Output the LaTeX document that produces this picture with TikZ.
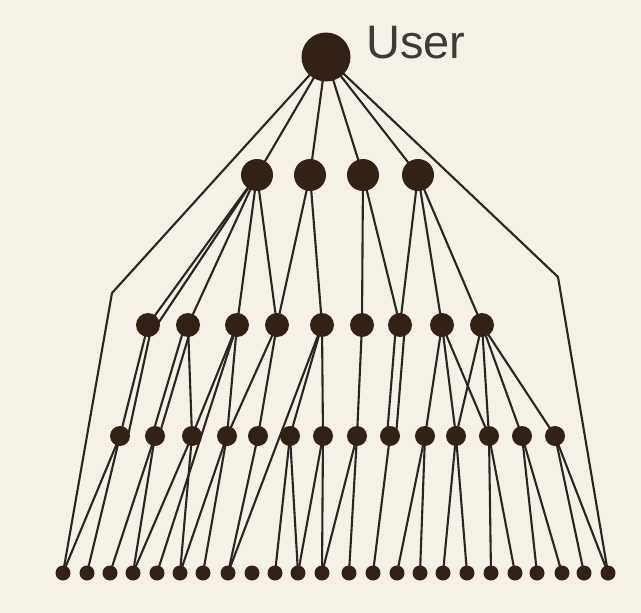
\documentclass[tikz,border=0pt]{standalone}
\usepackage{fontspec}
\setmainfont{Liberation Sans}
\pgfdeclarelayer{bg}
\pgfdeclarelayer{edges}
\pgfsetlayers{bg,edges,main}
\definecolor{paper}{RGB}{245,241,230}
\definecolor{dot}{RGB}{52,33,22}
\definecolor{ink}{RGB}{40,37,35}
\definecolor{labelink}{RGB}{62,58,55}
\begin{document}
\begin{tikzpicture}[x=1pt,y=-1pt,
  vtx/.style={circle,fill=dot,inner sep=0pt,draw=none},
  rootv/.style={vtx,minimum size=49pt},
  lvone/.style={vtx,minimum size=32pt},
  lvtwo/.style={vtx,minimum size=24pt},
  lvthree/.style={vtx,minimum size=20pt},
  leafv/.style={vtx,minimum size=15pt},
  edge/.style={draw=ink,line width=2.1pt}]
\begin{pgfonlayer}{bg}
\fill[paper] (0,0) rectangle (641,613);
\end{pgfonlayer}
\useasboundingbox (0,0) rectangle (641,613);
% nodes
\node[rootv] (U) at (326,57) {};
\node[anchor=base west,inner sep=0pt,text=labelink,font=\fontsize{47}{47}\selectfont] (lbl) at (366,58) {User};
\foreach \x [count=\i] in {257,310,363,418}
  \node[lvone] (a\i) at (\x,175) {};
\foreach \x [count=\i] in {148,188,237,277,322,362,400,442,482}
  \node[lvtwo] (b\i) at (\x,325) {};
\foreach \x [count=\i] in {120,155,192,227,258,290,323,357,390,425,456,489,522,555}
  \node[lvthree] (c\i) at (\x,436) {};
\foreach \x [count=\i] in {63,87,110,133,157,180,203,228,252,275,298,322,349,373,397,420,443,467,491,515,537,562,584,608}
  \node[leafv] (d\i) at (\x,573) {};
\coordinate (bl) at (112,293);
\coordinate (br) at (558,277);
% edges
\begin{pgfonlayer}{edges}
\foreach \s/\t in {U/a1,U/a2,U/a3,U/a4,
  a1/b1,a1/b2,a1/b3,a1/b4,a2/b4,a2/b5,a3/b6,a3/b7,a4/b7,a4/b8,a4/b9,
  b1/c1,b2/c3,b3/c3,b3/d5,b3/c4,b4/c4,b4/c5,b5/c6,b5/d8,b5/c7,b6/c8,
  b8/c10,b8/c11,b8/c12,b9/c11,b9/c12,b9/c13,b9/c14,
  c1/d1,c1/d2,c2/d3,c2/d4,c3/d4,c3/d6,c4/d6,c4/d7,c5/d8,c6/d10,c6/d11,
  c7/d11,c7/d12,c8/d12,c8/d13,c9/d14,c10/d15,c10/d16,c11/d17,c11/d18,
  c12/d19,c12/d20,c13/d21,c13/d22,c14/d23,c14/d24}
  \draw[edge] (\s.center) -- (\t.center);
\draw[edge] (a1.center) -- ([xshift=9pt]b1.center);
\draw[edge] ([xshift=4pt]b1.center) -- ([xshift=8pt]c1.center);
\draw[edge] ([xshift=-3pt]b2.center) -- ([xshift=-3pt]c2.center);
\draw[edge] ([xshift=4pt]b2.center) -- ([xshift=4pt]c2.center);
\draw[edge] ([xshift=-4pt]b7.center) -- ([xshift=-3pt]c9.center);
\draw[edge] ([xshift=5pt]b7.center) -- ([xshift=6pt]c9.center);
\draw[edge] (U.center) -- (bl) -- (d1.center);
\draw[edge] (U.center) -- (br) -- (d24.center);
\end{pgfonlayer}
\end{tikzpicture}
\end{document}
